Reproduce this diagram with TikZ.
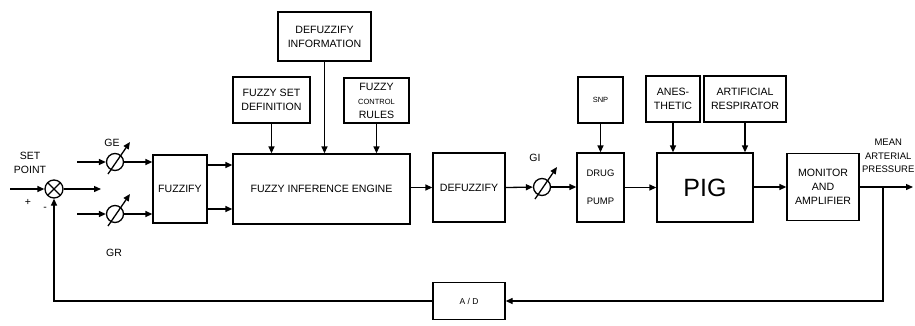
\documentclass[tikz,border=0pt]{standalone}
\usepackage{fontspec}
\setmainfont{Liberation Sans}
\usetikzlibrary{arrows.meta,calc}
\begin{document}
\begin{tikzpicture}[x=1pt,y=-1pt,
  line width=1.3pt,
  every node/.style={font=\fontsize{10.6}{14}\selectfont},
  box/.style={draw, line width=1.3pt, align=center, inner sep=1pt},
  arr/.style={-{Triangle[length=7pt,width=6pt]}},
  gain/.style={draw, circle, minimum size=17pt, inner sep=0pt, line width=1.3pt},
  lbl/.style={font=\fontsize{10.5}{13.5}\selectfont, align=center, inner sep=0pt}
]
\useasboundingbox (0,0) rectangle (915,325);

% main boxes
\node[box, minimum width=54pt, minimum height=68pt] (fz) at (180,189) {FUZZIFY};
\node[box, minimum width=177pt, minimum height=70pt] (fie) at (321.5,189) {FUZZY INFERENCE ENGINE};
\node[box, minimum width=72pt, minimum height=69pt] (dfz) at (469,187.5) {DEFUZZIFY};
\node[box, minimum width=47pt, minimum height=69pt, font=\fontsize{9.5}{13}\selectfont] (dp) at (600.5,187.5) {DRUG\\[15pt]PUMP};
\node[box, minimum width=96pt, minimum height=69pt, font=\fontsize{25}{28}\selectfont] (pig) at (705,187.5) {PIG};
\node[box, minimum width=72pt, minimum height=67pt] (mon) at (823,187) {MONITOR\\AND\\AMPLIFIER};

% upper boxes
\node[box, minimum width=93pt, minimum height=49pt] (di) at (324.5,36.5) {DEFUZZIFY\\INFORMATION};
\node[box, minimum width=77pt, minimum height=46pt] (fsd) at (271.5,100) {FUZZY SET\\DEFINITION};
\node[box, minimum width=65pt, minimum height=45pt] (fcr) at (376.5,100.5) {FUZZY\\{\fontsize{7.5}{9}\selectfont CONTROL}\\RULES};
\node[box, minimum width=45pt, minimum height=46pt, font=\fontsize{7.5}{9}\selectfont] (snp) at (600.5,100) {SNP};
\node[box, minimum width=54pt, minimum height=46pt] (anes) at (673,99) {ANES-\\THETIC};
\node[box, minimum width=82pt, minimum height=46pt] (resp) at (745,99) {ARTIFICIAL\\RESPIRATOR};

% A/D
\node[box, minimum width=72pt, minimum height=37pt, font=\fontsize{8.5}{10}\selectfont] (ad) at (469,301) {A / D};

% summing junction
\node[draw, circle, minimum size=18pt, inner sep=0pt,
  path picture={\draw (path picture bounding box.north west) -- (path picture bounding box.south east)
                      (path picture bounding box.south west) -- (path picture bounding box.north east);}] (sum) at (54,189) {};

% gains
\node[gain] (ge) at (115,162) {};
\node[gain] (gr) at (115,214) {};
\node[gain] (gi) at (542,187) {};
\foreach \g in {ge,gr,gi}{
  \draw[arr] ($(\g)+(-7,12)$) -- ($(\g)+(15,-20)$);
}

% labels
\node[lbl] (spl) at (30,163) {SET\\POINT};
\node[lbl] (plus) at (28,202) {+};
\node[lbl] (minus) at (45,209) {-};
\node[lbl] (gel) at (112,143) {GE};
\node[lbl] (grl) at (114,253) {GR};
\node[lbl] (gil) at (535,158) {GI};
\node[lbl, anchor=east, font=\fontsize{9.5}{13.5}\selectfont] (map) at (915,156) {MEAN\\ARTERIAL\\PRESSURE};

% input side
\coordinate (in) at (10,189);
\draw[arr] (in) -- (sum);
\coordinate (so) at (101,189);
\draw[arr] (sum) -- (so);
\coordinate (gein) at (77,162);
\coordinate (grin) at (77,214);
\draw[arr] (gein) -- (ge);
\draw[arr] (grin) -- (gr);
\draw[arr] (ge) -- (ge -| fz.west);
\draw[arr] (gr) -- (gr -| fz.west);

% fuzzify -> engine
\coordinate (fa) at ([yshift=24pt]fz.east);
\coordinate (fb) at ([yshift=-20pt]fz.east);
\draw[arr] (fa) -- (fa -| fie.west);
\draw[arr] (fb) -- (fb -| fie.west);

% top inputs
\draw[arr] (fsd.south) -- (fsd.south |- fie.north);
\draw[arr] (di.south) -- (di.south |- fie.north);
\draw[arr] (fcr.south) -- (fcr.south |- fie.north);
\draw[arr] (snp.south) -- (dp.north);
\draw[arr] (anes.south) -- (anes.south |- pig.north);
\draw[arr] (resp.south) -- (resp.south |- pig.north);

% forward chain
\coordinate (fe) at (fie.east |- dfz.west);
\draw[arr] (fe) -- (dfz.west);
\draw[arr] (dfz.east) -- (gi);
\draw[arr] (gi) -- (gi -| dp.west);
\coordinate (dpo) at (dp.east |- pig.west);
\draw[arr] (dpo) -- (pig.west);
\coordinate (pgo) at (pig.east |- mon.west);
\draw[arr] (pgo) -- (mon.west);
\coordinate (out) at (913,187);
\draw[arr] (mon.east) -- (out);

% feedback
\coordinate (tap) at (883,187);
\coordinate (fbr) at (883,301);
\draw[arr] (tap) -- (fbr) -- (ad.east);
\coordinate (fbl) at (ad.west -| sum);
\draw[arr] (ad.west) -- (fbl) -- (sum.south);
\end{tikzpicture}
\end{document}
